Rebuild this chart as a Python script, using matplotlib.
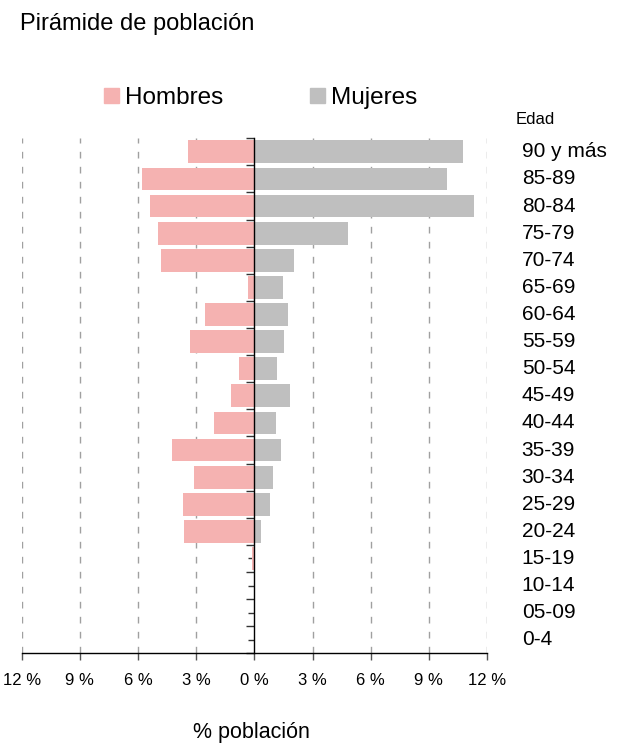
import matplotlib
matplotlib.use("Agg")
import matplotlib.pyplot as plt
from matplotlib.patches import Patch
import numpy as np

# -------------------------
# DATA
# -------------------------
edades = ["0-4", "05-09", "10-14", "15-19", "20-24", "25-29", "30-34", "35-39",
          "40-44", "45-49", "50-54", "55-59", "60-64", "65-69", "70-74",
          "75-79", "80-84", "85-89", "90 y más"]
hombres = [0.0, 0.0, 0.0, 0.12, 3.63, 3.68, 3.11, 4.25, 2.10, 1.20, 0.79,
           3.32, 2.55, 0.33, 4.82, 4.97, 5.38, 5.80, 3.42]
mujeres = [0.0, 0.0, 0.0, 0.0, 0.34, 0.81, 0.96, 1.38, 1.12, 1.83, 1.16,
           1.52, 1.73, 1.47, 2.04, 4.82, 11.33, 9.93, 10.76]
ticks_x = [-12, -9, -6, -3, 0, 3, 6, 9, 12]

color_h = "#F5B2B1"
color_m = "#BFBFBF"

plt.rcParams["font.family"] = ["Liberation Sans", "DejaVu Sans"]

# -------------------------
# FIGURE
# -------------------------
fig = plt.figure(figsize=(6.2, 7.47), dpi=100)
ax = fig.add_axes([0.035, 0.1254, 0.7505, 0.6895])

y = np.arange(len(edades))
ax.barh(y, [-v for v in hombres], height=0.84, color=color_h, zorder=2)
ax.barh(y, mujeres, height=0.84, color=color_m, zorder=2)

ax.set_xlim(-12, 12)
ax.set_ylim(-0.5, len(edades) - 0.5)

# dashed vertical grid
for t in ticks_x:
    if t != 0:
        ax.axvline(t, color="#A0A0A0", lw=1.0, ls=(0, (4.8, 6)), zorder=1)

# spines
for s in ["top", "right"]:
    ax.spines[s].set_visible(False)
ax.spines["left"].set_position(("data", 0))
ax.spines["left"].set_linewidth(1.0)
ax.spines["bottom"].set_linewidth(1.0)
ax.spines["left"].set_zorder(3)

ax.set_xticks(ticks_x)
ax.set_xticklabels([f"{abs(t)} %" for t in ticks_x], fontsize=12)
ax.tick_params(axis="x", direction="out", length=5, width=1, pad=9,
               color="#555555")

ax.set_yticks(np.arange(-0.5, len(edades), 1.0))
ax.set_yticklabels([])
ax.set_yticks(y, minor=True)
ax.tick_params(axis="y", which="major", direction="out", length=6, width=1,
               color="#333333")
ax.tick_params(axis="y", which="minor", direction="out", length=4, width=1,
               color="#333333")

# age labels on the right
for yi, lab in zip(y, edades):
    ax.text(1.0746, yi, lab, transform=ax.get_yaxis_transform(),
            ha="left", va="center", fontsize=15)

fig.text(516 / 620, 1 - 119 / 747, "Edad", ha="left", va="center", fontsize=12)

# title
fig.text(20 / 620, 1 - 30 / 747, "Pirámide de población", ha="left",
         va="baseline", fontsize=17)

# legend
handles = [Patch(color=color_h, label="Hombres"),
           Patch(color=color_m, label="Mujeres")]
fig.legend(handles=handles, loc="center left", ncol=2, frameon=False,
           bbox_to_anchor=(104 / 620, 1 - 98 / 747), fontsize=17.5,
           borderpad=0, borderaxespad=0, handlelength=0.62,
           handleheight=0.62, handletextpad=0.25, columnspacing=3.55)

# x label
fig.text(251 / 620, 9 / 747, "% población", ha="center", va="baseline",
         fontsize=15.5)

plt.savefig("out.png", dpi=100)
